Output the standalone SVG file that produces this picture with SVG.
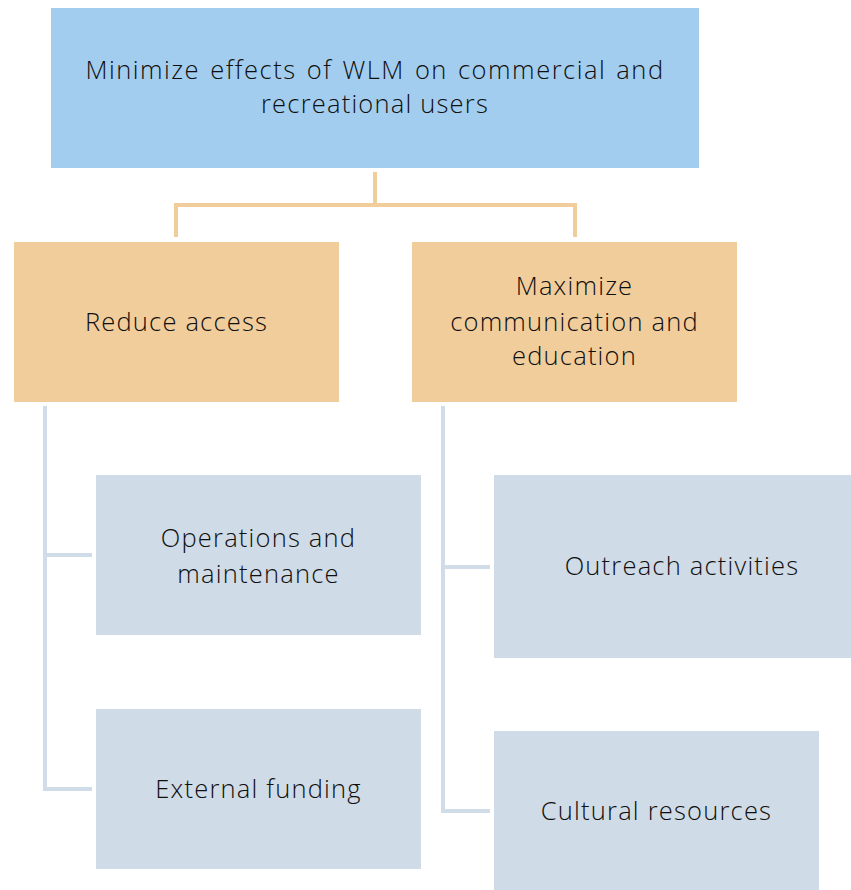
<svg xmlns="http://www.w3.org/2000/svg" width="851" height="890" viewBox="0 0 851 890">
<style>
.t{font-family:"Open Sans","Noto Sans","Liberation Sans",sans-serif;font-size:25.5px;font-weight:350;fill:#0f0f0f;text-anchor:middle;letter-spacing:1.2px}
.w{letter-spacing:1.5px;word-spacing:2px}
.top{fill:#A3CDEE}
.mid{fill:#F2CD9C}
.leaf{fill:#CFDBE6}
.co{fill:none;stroke:#F2CD9C;stroke-width:4}
.cb{fill:none;stroke:#D0DCE8;stroke-width:4}
</style>
<rect width="851" height="890" fill="#FFFFFF"/>
<g id="connectors">
<path class="co" d="M375,172 V205 M176,237 V205 H575 V237"/>
<path class="cb" d="M45,406 V789 H92 M45,555 H92"/>
<path class="cb" d="M443,406 V811 H490 M443,567 H490"/>
</g>
<g id="root">
<rect class="top" x="51" y="8" width="648" height="160"/>
<text class="t w" x="375" y="79">Minimize effects of WLM on commercial and</text>
<text class="t" x="375" y="113">recreational users</text>
</g>
<g id="reduce">
<rect class="mid" x="14" y="242" width="325" height="160"/>
<text class="t" x="176.5" y="331">Reduce access</text>
</g>
<g id="maximize">
<rect class="mid" x="412" y="242" width="325" height="160"/>
<text class="t" x="574.5" y="295">Maximize</text>
<text class="t" x="574.5" y="331">communication and</text>
<text class="t" x="574.5" y="365">education</text>
</g>
<g id="operations">
<rect class="leaf" x="96" y="475" width="325" height="160"/>
<text class="t" x="258.5" y="547">Operations and</text>
<text class="t" x="258.5" y="583">maintenance</text>
</g>
<g id="funding">
<rect class="leaf" x="96" y="709" width="325" height="160"/>
<text class="t" x="258.5" y="798">External funding</text>
</g>
<g id="outreach">
<rect class="leaf" x="494" y="475" width="376" height="183"/>
<text class="t" x="682" y="575">Outreach activities</text>
</g>
<g id="cultural">
<rect class="leaf" x="494" y="731" width="325" height="183"/>
<text class="t" x="656.5" y="820">Cultural resources</text>
</g>
</svg>
